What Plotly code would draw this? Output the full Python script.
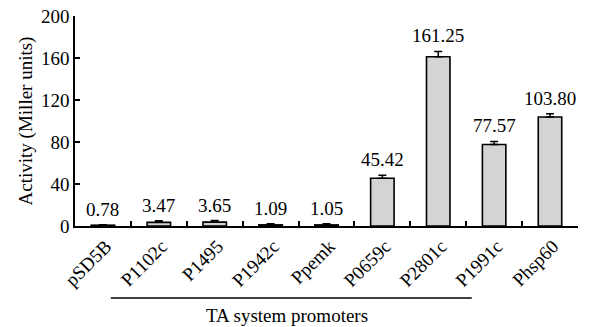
import plotly.graph_objects as go

# Promoter activities (Miller units) with their standard errors
promoters = ["pSD5B", "P1102c", "P1495", "P1942c", "Ppemk",
             "P0659c", "P2801c", "P1991c", "Phsp60"]
activity = [0.78, 3.47, 3.65, 1.09, 1.05, 45.42, 161.25, 77.57, 103.80]
error = [0.3, 1.5, 1.5, 1.0, 1.0, 3.0, 5.0, 3.0, 3.0]
value_labels = ["0.78", "3.47", "3.65", "1.09", "1.05",
                "45.42", "161.25", "77.57", "103.80"]
y_ticks = [0, 40, 80, 120, 160, 200]

FONT = "Liberation Serif, Times New Roman, serif"

fig = go.Figure()
fig.add_trace(go.Bar(
    x=promoters,
    y=activity,
    width=0.42,
    marker=dict(color="#d4d4d4", line=dict(color="black", width=1.6)),
    error_y=dict(type="data", symmetric=False, array=error,
                 arrayminus=[0] * len(error),
                 color="black", thickness=1.5, width=4),
))

# value labels above each error bar
for name, v, e, lab in zip(promoters, activity, error, value_labels):
    fig.add_annotation(x=name, y=v + e, text=lab, showarrow=False,
                       yanchor="bottom", yshift=3,
                       font=dict(family=FONT, size=19, color="black"))

# bracket line under the toxin-antitoxin promoters
fig.add_shape(type="line", xref="x", yref="paper",
              x0=0.14, x1=6.6, y0=-0.343, y1=-0.343,
              line=dict(color="black", width=1.5))
fig.add_annotation(xref="x", yref="paper", x=3.3, y=-0.424,
                   xanchor="center", yanchor="middle",
                   text="TA system promoters", showarrow=False,
                   font=dict(family=FONT, size=19, color="black"))

fig.update_layout(
    width=593, height=327,
    margin=dict(l=75, r=15, t=16, b=101),
    paper_bgcolor="white", plot_bgcolor="white",
    showlegend=False,
    bargap=0.58,
    font=dict(family=FONT, size=19, color="black"),
    xaxis=dict(
        type="category", automargin=False,
        showline=True, linecolor="black", linewidth=1.6,
        ticks="inside", tickson="boundaries", ticklen=5,
        tickcolor="black", tickwidth=1.5,
        tickangle=-45, tickfont=dict(family=FONT, size=19),
        ticklabelshift=3,
        showgrid=False, zeroline=False,
    ),
    yaxis=dict(
        range=[0, 200], tickvals=y_ticks, automargin=False,
        showline=True, linecolor="black", linewidth=1.6,
        ticks="inside", ticklen=5, tickcolor="black", tickwidth=1.5,
        tickfont=dict(family=FONT, size=19),
        showgrid=False, zeroline=False,
        title=dict(text="Activity (Miller units)",
                   font=dict(family=FONT, size=19), standoff=3),
    ),
)

fig.write_html("out.html")
